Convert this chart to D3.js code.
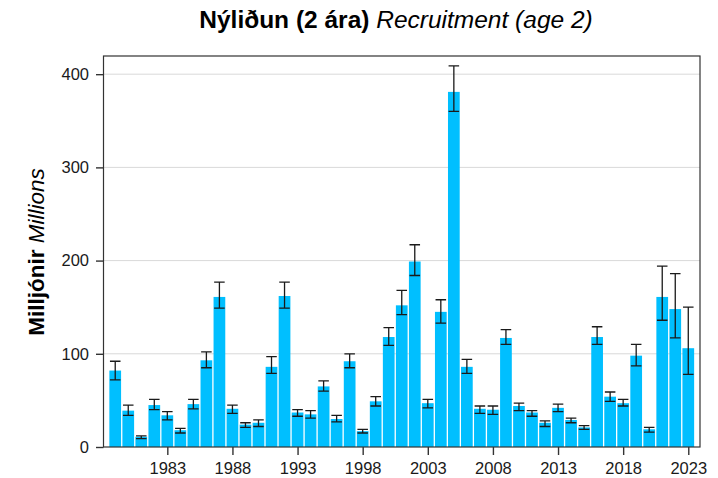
<!doctype html>
<html>
  <head>
    <script src="https://cdnjs.cloudflare.com/ajax/libs/d3/7.8.5/d3.min.js"></script>
    <style>
      body { margin: 0; background: #fff; }
      text { font-family: "Liberation Sans", Arial, sans-serif; }
    </style>
  </head>
  <body>
    <svg width="718" height="478"></svg>
    <script>
      var years = d3.range(1979, 2024);
      var recruitment = [82, 39, 11, 45, 34, 18, 46, 93, 161, 41, 24, 26, 86, 162, 37,
                         35, 65, 30, 92, 17, 49, 118, 152, 199, 47, 145, 381, 86, 41, 40,
                         117, 44, 37, 26, 42, 29, 21, 118, 54, 47, 98, 19, 161, 148, 106];
      var lower = [72, 34, 9, 40, 29, 15, 41, 85, 149, 36, 21, 22, 79, 149, 33,
                   31, 60, 27, 85, 15, 44, 109, 142, 184, 42, 133, 360, 79, 36, 35,
                   110, 39, 33, 22, 38, 26, 19, 110, 49, 44, 87, 16, 136, 117, 78];
      var upper = [92, 45, 12, 51, 38, 20, 51, 102, 177, 45, 26, 29, 97, 177, 40,
                   39, 71, 34, 100, 19, 54, 128, 168, 217, 51, 158, 409, 94, 44, 44,
                   126, 47, 39, 28, 46, 31, 23, 129, 59, 51, 110, 21, 194, 186, 150];
      var yTicks = [0, 100, 200, 300, 400];
      var xTicks = [1983, 1988, 1993, 1998, 2003, 2008, 2013, 2018, 2023];

      var data = years.map((yr, i) => ({year: yr, value: recruitment[i], lo: lower[i], hi: upper[i]}));

      var pLeft = 103.5, pRight = 700, pTop = 56, pBottom = 447;
      var svg = d3.select("svg");

      var x = d3.scaleLinear().domain([1978.1, 2023.9]).range([pLeft, pRight]);
      var y = d3.scaleLinear().domain([0, 419.5]).range([pBottom, pTop]);
      var bw = x(1979.9) - x(1979);

      // gridlines
      svg.append("g").selectAll("line").data(yTicks.filter(d => d > 0))
        .enter().append("line")
          .attr("x1", pLeft).attr("x2", pRight)
          .attr("y1", d => y(d)).attr("y2", d => y(d))
          .style("stroke", "#d9d9d9").style("stroke-width", 1);

      // bars
      svg.append("g").selectAll("rect").data(data)
        .enter().append("rect")
          .attr("x", d => x(d.year) - bw / 2)
          .attr("y", d => y(d.value))
          .attr("width", bw)
          .attr("height", d => y(0) - y(d.value))
          .style("fill", "#00bfff");

      // error bars
      var eb = svg.append("g").style("stroke", "#1a1a1a").style("stroke-width", 1.3).style("fill", "none");
      eb.selectAll("path").data(data)
        .enter().append("path")
          .attr("d", d => {
            var cx = x(d.year), w = bw * 0.45;
            return "M" + (cx - w) + "," + y(d.hi) + "H" + (cx + w) +
                   "M" + cx + "," + y(d.hi) + "V" + y(d.lo) +
                   "M" + (cx - w) + "," + y(d.lo) + "H" + (cx + w);
          });

      // panel border
      svg.append("rect")
        .attr("x", pLeft).attr("y", pTop)
        .attr("width", pRight - pLeft).attr("height", pBottom - pTop)
        .style("fill", "none").style("stroke", "#333").style("stroke-width", 1.2);

      // axes
      var yAxis = svg.append("g")
        .attr("transform", "translate(" + pLeft + ",0)")
        .call(d3.axisLeft(y).tickValues(yTicks).tickSize(7.5).tickPadding(7));
      var xAxis = svg.append("g")
        .attr("transform", "translate(0," + pBottom + ")")
        .call(d3.axisBottom(x).tickValues(xTicks).tickFormat(d3.format("d")).tickSize(8).tickPadding(7.5));
      [yAxis, xAxis].forEach(a => {
        a.select(".domain").remove();
        a.selectAll(".tick line").style("stroke", "#333").style("stroke-width", 1.4);
        a.selectAll(".tick text").style("fill", "#1a1a1a")
          .style("font-size", "16.5px").style("font-family", "Liberation Sans, Arial, sans-serif");
      });

      // title
      var title = svg.append("text")
        .attr("x", 396).attr("y", 28)
        .attr("text-anchor", "middle")
        .style("font-size", "24.5px").style("fill", "#000");
      title.append("tspan").style("font-weight", "bold").text("Nýliðun (2 ára) ");
      title.append("tspan").style("font-style", "italic").text("Recruitment (age 2)");

      // y label
      var ylab = svg.append("text")
        .attr("transform", "translate(43.5,252) rotate(-90)")
        .attr("text-anchor", "middle")
        .style("font-size", "22.5px").style("fill", "#000");
      ylab.append("tspan").style("font-weight", "bold").text("Milljónir ");
      ylab.append("tspan").style("font-style", "italic").text("Millions");
    </script>
  </body>
</html>
